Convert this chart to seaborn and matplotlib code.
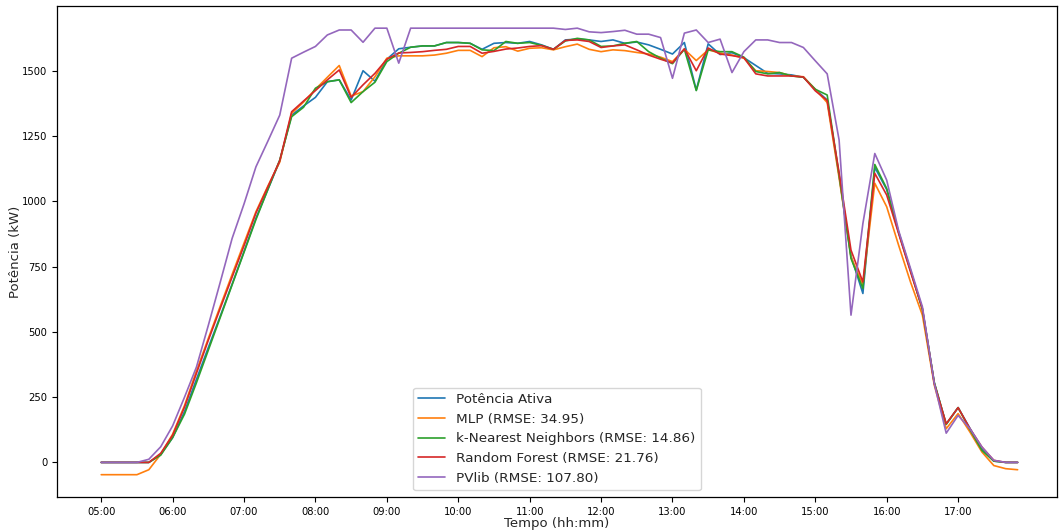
import numpy as np
import pandas as pd
import matplotlib
matplotlib.use("Agg")
import matplotlib.pyplot as plt
import matplotlib.dates as mdates
import seaborn as sns

times = pd.date_range("2019-01-01 05:00", "2019-01-01 17:50", freq="10min")

potencia_ativa = [0, 0, 0, 0, 0, 30, 95, 195, 318, 440, 560, 683, 808, 935, 1045, 1155,
                  1330, 1365, 1398, 1458, 1465, 1388, 1500, 1460, 1544, 1584, 1590, 1595,
                  1595, 1608, 1608, 1605, 1582, 1605, 1608, 1605, 1612, 1599, 1582, 1618,
                  1621, 1618, 1612, 1618, 1605, 1610, 1599, 1582, 1564, 1608, 1426, 1603,
                  1562, 1569, 1550, 1520, 1490, 1488, 1484, 1475, 1429, 1388, 1100, 790,
                  647, 1130, 1045, 880, 735, 588, 305, 146, 210, 130, 50, 5, 0, 0]

mlp = [-47, -47, -47, -47, -28, 31, 108, 218, 350, 475, 598, 720, 840, 960, 1058, 1150,
       1337, 1380, 1429, 1475, 1520, 1403, 1420, 1477, 1548, 1557, 1557, 1557, 1560, 1567,
       1578, 1578, 1554, 1588, 1592, 1575, 1586, 1588, 1580, 1592, 1602, 1582, 1573, 1580,
       1577, 1570, 1564, 1552, 1535, 1582, 1539, 1580, 1568, 1560, 1548, 1500, 1497, 1493,
       1480, 1477, 1429, 1378, 1090, 787, 680, 1069, 979, 832, 691, 564, 296, 129, 187,
       116, 40, -12, -24, -28]

knn = [0, 0, 0, 0, 0, 28, 95, 185, 305, 430, 555, 680, 805, 930, 1045, 1158,
       1324, 1360, 1433, 1458, 1465, 1378, 1420, 1456, 1535, 1567, 1590, 1595, 1595, 1608,
       1608, 1605, 1580, 1577, 1612, 1605, 1608, 1597, 1582, 1614, 1624, 1618, 1593, 1595,
       1605, 1612, 1573, 1548, 1527, 1582, 1424, 1580, 1573, 1573, 1552, 1497, 1488, 1493,
       1480, 1475, 1429, 1407, 1100, 781, 666, 1141, 1049, 883, 736, 585, 306, 146, 210,
       125, 46, 5, 0, 0]

random_forest = [0, 0, 0, 0, 0, 35, 104, 212, 341, 468, 590, 710, 830, 955, 1055, 1155,
                 1343, 1384, 1424, 1465, 1503, 1398, 1446, 1490, 1544, 1568, 1570, 1573, 1578,
                 1582, 1593, 1593, 1567, 1574, 1583, 1587, 1593, 1596, 1582, 1616, 1618, 1612,
                 1589, 1595, 1599, 1580, 1560, 1544, 1530, 1584, 1500, 1587, 1564, 1558, 1550,
                 1488, 1480, 1480, 1480, 1476, 1423, 1386, 1110, 813, 691, 1107, 1024, 877, 730,
                 589, 302, 148, 210, 129, 59, 8, 0, 0]

pvlib = [0, 0, 0, 0, 12, 60, 140, 250, 365, 525, 690, 858, 990, 1132, 1230, 1330,
         1548, 1571, 1593, 1637, 1656, 1656, 1609, 1663, 1663, 1529, 1663, 1663, 1663, 1663,
         1663, 1663, 1663, 1663, 1663, 1663, 1663, 1663, 1663, 1658, 1663, 1649, 1646, 1650,
         1655, 1640, 1640, 1627, 1471, 1644, 1656, 1608, 1621, 1493, 1573, 1618, 1618, 1608,
         1608, 1589, 1538, 1488, 1235, 564, 915, 1183, 1081, 888, 743, 596, 302, 112, 180,
         129, 59, 8, 0, 0]

labels = ["Potência Ativa", "MLP (RMSE: 34.95)", "k-Nearest Neighbors (RMSE: 14.86)",
          "Random Forest (RMSE: 21.76)", "PVlib (RMSE: 107.80)"]
series = [potencia_ativa, mlp, knn, random_forest, pvlib]
colors = ["#1f77b4", "#ff7f0e", "#2ca02c", "#d62728", "#9467bd"]

frames = []
for lab, vals in zip(labels, series):
    frames.append(pd.DataFrame({"Tempo": times, "Potência": vals, "Série": lab}))
df = pd.concat(frames, ignore_index=True)

sns.set_style("white")
plt.rcParams['font.family'] = ['DejaVu Sans']

fig = plt.figure(figsize=(10.59, 5.31), dpi=100)
ax = fig.add_axes([0.054, 0.064, 0.944, 0.925])

sns.lineplot(data=df, x="Tempo", y="Potência", hue="Série", hue_order=labels,
             palette=colors, linewidth=1.2, ax=ax, estimator=None)

hour_ticks = [t for t in times if t.minute == 0]
ax.set_xticks(hour_ticks)
ax.xaxis.set_major_formatter(mdates.DateFormatter("%H:%M"))
ax.set_xlim(pd.Timestamp("2019-01-01 04:23"), pd.Timestamp("2019-01-01 18:23"))
ax.set_yticks([0, 250, 500, 750, 1000, 1250, 1500])
ax.tick_params(axis="both", labelsize=7.2, direction="out", length=3.5, width=0.8,
               bottom=True, left=True, colors="black")
ax.set_xlabel("Tempo (hh:mm)", fontsize=9.5)
ax.set_ylabel("Potência (kW)", fontsize=9.5)
ax.xaxis.set_label_coords(0.5, -0.040)
ax.yaxis.set_label_coords(-0.035, 0.5)
for s in ax.spines.values():
    s.set_color("black")
    s.set_linewidth(0.9)

ax.margins(y=0.05)
leg = ax.legend(loc="lower center", fontsize=9.7, frameon=True)
leg.set_title(None)

fig.savefig("out.png", dpi=100)
